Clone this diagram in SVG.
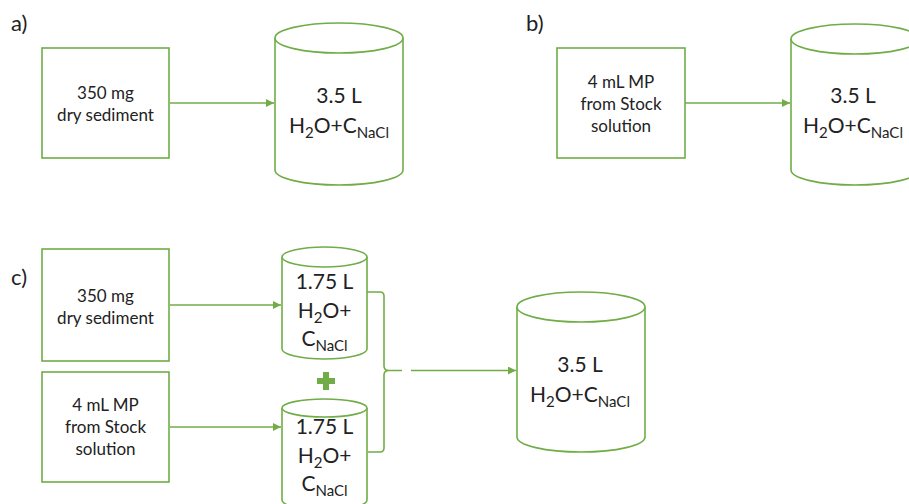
<svg xmlns="http://www.w3.org/2000/svg" width="909" height="504" viewBox="0 0 909 504">
<style>
.shape{fill:#fff;stroke:#70AD47;stroke-width:1.6}
.line{fill:none;stroke:#70AD47;stroke-width:1.6}
text{font-family:Lato,"Liberation Sans",sans-serif;fill:#222;text-anchor:middle}
.lbl{font-size:22px;text-anchor:start}
.box{font-size:17px}
.cyl{font-size:21px}
.sub{font-size:15px}
</style>
<defs>
<marker id="arr" markerWidth="10" markerHeight="10" refX="8" refY="4" orient="auto" markerUnits="userSpaceOnUse">
<path d="M0,0 L8,4 L0,8 Z" fill="#70AD47"/>
</marker>
</defs>
<rect width="909" height="504" fill="#fff"/>
<text class="lbl" x="11" y="31">a)</text>
<text class="lbl" x="526" y="31">b)</text>
<text class="lbl" x="11" y="285">c)</text>

<g id="connectors">
<line class="line" x1="170" y1="103" x2="274" y2="103" marker-end="url(#arr)"/>
<line class="line" x1="685" y1="103" x2="790" y2="103" marker-end="url(#arr)"/>
<line class="line" x1="170" y1="305" x2="281" y2="305" marker-end="url(#arr)"/>
<line class="line" x1="170" y1="427" x2="281" y2="427" marker-end="url(#arr)"/>
<path class="line" d="M367,292 H380 Q384,292 384,296 V366 Q384,370.5 389,370.5 H402 M389,370.5 Q384,370.5 384,375 V448 Q384,452 380,452 H368"/>
<line class="line" x1="411" y1="370.5" x2="516" y2="370.5" marker-end="url(#arr)"/>
</g>

<g id="a_box">
<rect class="shape" x="42" y="48" width="127" height="110"/>
<text class="box" x="105.5" y="99">350 mg</text>
<text class="box" x="105.5" y="121">dry sediment</text>
</g>
<g id="a_cyl">
<path class="shape" d="M275,38 V170 A64,15 0 0 0 403,170 V38"/>
<ellipse class="shape" cx="339" cy="38" rx="64" ry="15"/>
<text class="cyl" x="339" y="103">3.5 L</text>
<text class="cyl" x="339" y="133">H<tspan class="sub" dy="5">2</tspan><tspan dy="-5">O+C</tspan><tspan class="sub" dy="5">NaCl</tspan></text>
</g>

<g id="b_box">
<rect class="shape" x="557" y="48" width="128" height="110"/>
<text class="box" x="621" y="88">4 mL MP</text>
<text class="box" x="621" y="110">from Stock</text>
<text class="box" x="621" y="132">solution</text>
</g>
<g id="b_cyl">
<path class="shape" d="M791,39 V170 A64,15 0 0 0 919,170 V39"/>
<ellipse class="shape" cx="855" cy="39" rx="64" ry="15"/>
<text class="cyl" x="853" y="103">3.5 L</text>
<text class="cyl" x="853" y="133">H<tspan class="sub" dy="5">2</tspan><tspan dy="-5">O+C</tspan><tspan class="sub" dy="5">NaCl</tspan></text>
</g>

<g id="c_box1">
<rect class="shape" x="42" y="249" width="127" height="112"/>
<text class="box" x="105.5" y="302">350 mg</text>
<text class="box" x="105.5" y="324">dry sediment</text>
</g>
<g id="c_box2">
<rect class="shape" x="42" y="372" width="127" height="110"/>
<text class="box" x="105.5" y="411">4 mL MP</text>
<text class="box" x="105.5" y="433">from Stock</text>
<text class="box" x="105.5" y="455">solution</text>
</g>

<g id="c_cyl1">
<path class="shape" d="M282,257 V349 A42.5,10 0 0 0 367,349 V257"/>
<ellipse class="shape" cx="324.5" cy="257" rx="42.5" ry="10"/>
<text class="cyl" x="324.5" y="289">1.75 L</text>
<text class="cyl" x="324.5" y="318">H<tspan class="sub" dy="5">2</tspan><tspan dy="-5">O+</tspan></text>
<text class="cyl" x="324.5" y="346">C<tspan class="sub" dy="5">NaCl</tspan></text>
</g>

<g id="plus">
<path d="M323,372 H329 V378 H335 V384 H329 V390 H323 V384 H317 V378 H323 Z" fill="#70AD47"/>
</g>

<g id="c_cyl2">
<path class="shape" d="M282,408 V500 A42.5,10 0 0 0 367,500 V408"/>
<ellipse class="shape" cx="324.5" cy="408" rx="42.5" ry="9"/>
<text class="cyl" x="324.5" y="434">1.75 L</text>
<text class="cyl" x="324.5" y="463">H<tspan class="sub" dy="5">2</tspan><tspan dy="-5">O+</tspan></text>
<text class="cyl" x="324.5" y="491">C<tspan class="sub" dy="5">NaCl</tspan></text>
</g>

<g id="c_cyl3">
<path class="shape" d="M517,307 V437 A64,15 0 0 0 645,437 V307"/>
<ellipse class="shape" cx="581" cy="307" rx="64" ry="15"/>
<text class="cyl" x="580" y="372">3.5 L</text>
<text class="cyl" x="580" y="402">H<tspan class="sub" dy="5">2</tspan><tspan dy="-5">O+C</tspan><tspan class="sub" dy="5">NaCl</tspan></text>
</g>
</svg>
